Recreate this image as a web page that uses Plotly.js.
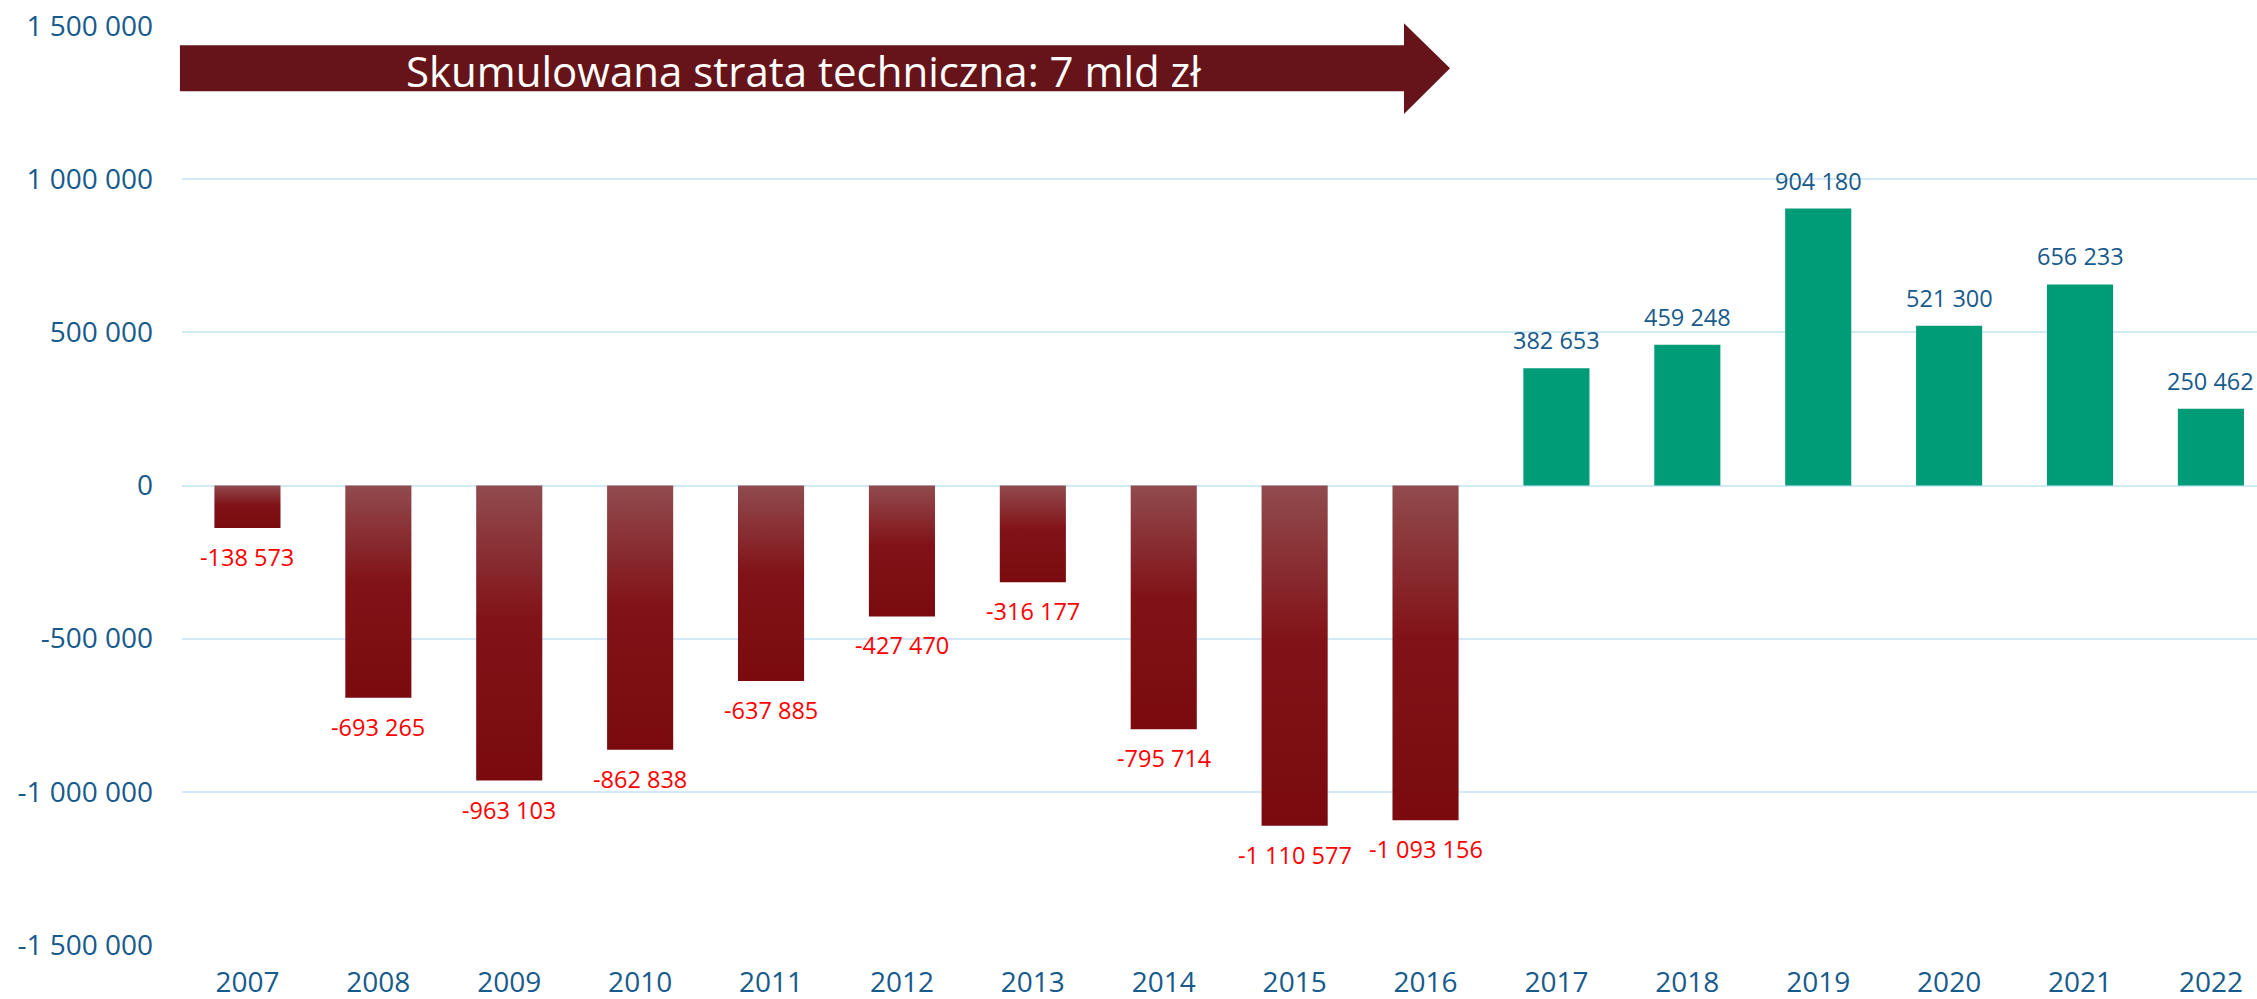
<!DOCTYPE html>
<html>
<head>
<meta charset="utf-8">
<script src="https://cdn.plot.ly/plotly-3.0.1.min.js"></script>
<style>
  html, body { margin: 0; padding: 0; background: #ffffff; }
  #chart { width: 2257px; height: 999px; }
</style>
</head>
<body>
<svg width="0" height="0" style="position:absolute">
  <defs>
    <linearGradient id="lossGrad" x1="0" y1="0" x2="0" y2="1">
      <stop offset="0" stop-color="#914B4E"/>
      <stop offset="0.45" stop-color="#811318"/>
      <stop offset="1" stop-color="#7A0A0E"/>
    </linearGradient>
  </defs>
</svg>
<div id="chart"></div>
<script>
// ---- data ----
var years = ['2007','2008','2009','2010','2011','2012','2013','2014','2015','2016','2017','2018','2019','2020','2021','2022'];
var technicalResult = [-138573, -693265, -963103, -862838, -637885, -427470, -316177, -795714, -1110577, -1093156, 382653, 459248, 904180, 521300, 656233, 250462];
var yTickVals = [-1500000, -1000000, -500000, 0, 500000, 1000000, 1500000];
var yTickText = ['-1 500 000', '-1 000 000', '-500 000', '0', '500 000', '1 000 000', '1 500 000'];
var bannerText = 'Skumulowana strata techniczna: 7 mld zł';

// ---- style ----
var BLUE = '#175A8C';
var GREEN = '#009B77';
var LOSS = '#7D0E12';
var GRID = '#D2E9F8';
var FONT = 'Open Sans, Noto Sans, sans-serif';

function fmt(v) {
  var s = Math.abs(v).toString().replace(/\B(?=(\d{3})+(?!\d))/g, ' ');
  return (v < 0 ? '-' : '') + s;
}

var trace = {
  type: 'bar',
  x: years,
  y: technicalResult,
  marker: { color: technicalResult.map(function (v) { return v < 0 ? LOSS : GREEN; }), line: { width: 0 } },
  hoverinfo: 'none'
};

// value labels, placed at each bar's end through the data axes (category index on x)
var labelAnnotations = years.map(function (yr, i) {
  var v = technicalResult[i];
  return {
    xref: 'x',
    yref: 'y',
    x: i,
    y: v,
    xanchor: 'center',
    yanchor: 'middle',
    yshift: v < 0 ? -29 : 28,
    showarrow: false,
    text: fmt(v),
    font: { family: FONT, size: 23.5, color: v < 0 ? '#FF0000' : BLUE }
  };
});

var layout = {
  width: 2257,
  height: 999,
  margin: { l: 182, r: 0, t: 26, b: 54 },
  paper_bgcolor: '#ffffff',
  plot_bgcolor: '#ffffff',
  showlegend: false,
  bargap: 0.495,
  font: { family: FONT },
  xaxis: {
    type: 'category',
    range: [-0.5, 15.352],
    showgrid: false,
    zeroline: false,
    showline: false,
    ticks: '',
    ticklabelstandoff: 18,
    tickfont: { family: FONT, size: 28, color: BLUE }
  },
  yaxis: {
    range: [-1500000, 1500000],
    tickmode: 'array',
    tickvals: yTickVals,
    ticktext: yTickText,
    showgrid: true,
    gridcolor: GRID,
    gridwidth: 2,
    zeroline: true,
    zerolinecolor: GRID,
    zerolinewidth: 2,
    showline: false,
    ticks: '',
    ticklabelstandoff: 28,
    tickfont: { family: FONT, size: 28, color: BLUE }
  },
  shapes: [{
    type: 'path',
    xref: 'paper',
    yref: 'paper',
    path: 'M -0.001,0.929 L 0.5889,0.929 L 0.5889,0.9042 L 0.6111,0.954 L 0.5889,1.0029 L 0.5889,0.979 L -0.001,0.979 Z',
    fillcolor: '#66141A',
    line: { width: 0 },
    layer: 'above'
  }],
  annotations: [{
    xref: 'paper',
    yref: 'paper',
    x: 0.2993,
    y: 0.952,
    xanchor: 'center',
    yanchor: 'middle',
    showarrow: false,
    text: bannerText,
    font: { family: FONT, size: 42, color: '#ffffff' }
  }].concat(labelAnnotations)
};

Plotly.newPlot('chart', [trace], layout, { staticPlot: true, displayModeBar: false }).then(function (gd) {
  var paths = gd.querySelectorAll('.barlayer .trace .point path');
  paths.forEach(function (p, i) {
    if (technicalResult[i] < 0) { p.style.fill = 'url(#lossGrad)'; }
  });
});
</script>
</body>
</html>
